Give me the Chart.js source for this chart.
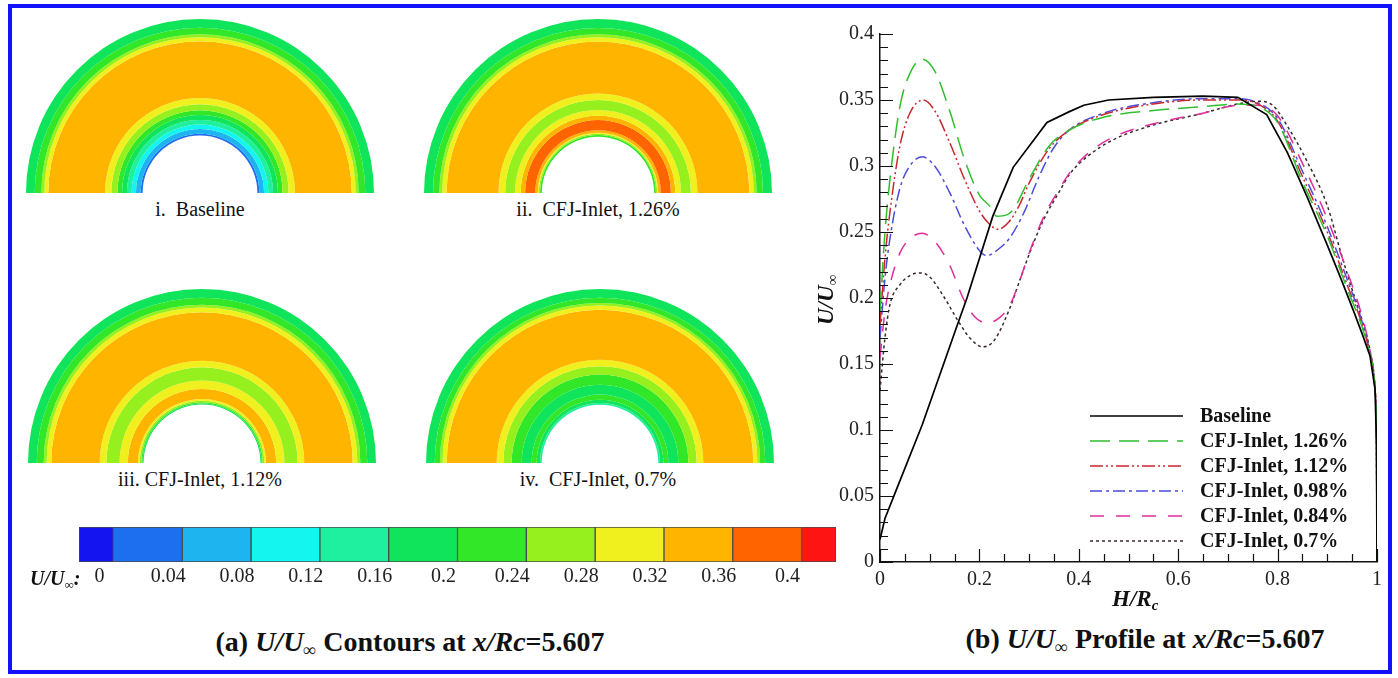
<!DOCTYPE html>
<html lang="en">
<head>
<meta charset="UTF-8">
<meta name="viewport" content="width=device-width, initial-scale=1.0">
<title>U/U∞ contours and profile at x/Rc=5.607</title>
<script src="https://cdn.jsdelivr.net/npm/chart.js"></script>
<style>
    body {
        margin: 0;
        width: 1398px;
        height: 678px;
        background: #fff;
        position: relative;
        overflow: hidden;
        font-family: "Liberation Serif", "Times New Roman", serif;
        color: #111;
    }
    .frame {
        position: absolute;
        left: 8px; top: 4px;
        width: 1384px; height: 670px;
        border: 4px solid #1212ff;
        box-sizing: border-box;
    }
    .box { position: absolute; }
    .ring-label {
        position: absolute;
        width: 360px;
        text-align: center;
        font-size: 20px;
        line-height: 22px;
        white-space: pre;
    }
    .caption {
        position: absolute;
        width: 600px;
        text-align: center;
        font-size: 28px;
        font-weight: bold;
        line-height: 32px;
        white-space: nowrap;
    }
    .axis-title {
        position: absolute;
        font-size: 23px;
        font-weight: bold;
        font-style: italic;
        line-height: 24px;
        white-space: nowrap;
    }
    sub { font-size: 65%; vertical-align: -0.3em; line-height: 0; }
</style>
</head>

<body>
    <div class="frame"></div>

    <!-- (a) contour panels -->
    <div class="box" id="p1box"><canvas id="ringBase"></canvas></div>
    <div class="box" id="p2box"><canvas id="ring126"></canvas></div>
    <div class="box" id="p3box"><canvas id="ring112"></canvas></div>
    <div class="box" id="p4box"><canvas id="ring070"></canvas></div>

    <div class="ring-label" style="left:20px; top:198px;">i.  Baseline</div>
    <div class="ring-label" style="left:418px; top:198px;">ii.  CFJ-Inlet, 1.26%</div>
    <div class="ring-label" style="left:20px; top:468px;">iii. CFJ-Inlet, 1.12%</div>
    <div class="ring-label" style="left:418px; top:468px;">iv.  CFJ-Inlet, 0.7%</div>

    <div class="box" style="left:59px; top:520px; width:797px; height:70px;"><canvas id="colorBar"></canvas></div>
    <div class="axis-title" style="left:30px; top:566px; font-size:20px;">U/U<sub>∞</sub>:</div>

    <div class="caption" style="left:110px; top:626px;">(a) <i>U/U</i><sub>∞</sub> Contours at <i>x/Rc</i>=5.607</div>

    <!-- (b) profile -->
    <div class="box" style="left:820px; top:16px; width:570px; height:590px;"><canvas id="profile"></canvas></div>
    <div class="axis-title" style="left:796px; top:283px; transform:rotate(-90deg); transform-origin:30px 12px;">U/U<sub>∞</sub></div>
    <div class="axis-title" style="left:1112px; top:587px;">H/R<sub>c</sub></div>

    <div class="caption" style="left:845px; top:623px;">(b) <i>U/U</i><sub>∞</sub> Profile at <i>x/Rc</i>=5.607</div>

<script>
    // ---- colour levels (flood) : index 0 is below 0, index 11 above 0.4
    const levelColors = ['#1414f0', '#1e6ef0', '#1eb4f0', '#14f5f0', '#1ef0a0', '#10e45a',
                         '#32e628', '#96f01e', '#f0f01e', '#ffb400', '#ff6400', '#ff1414'];

    const cbEdges = [-0.02, 0, 0.04, 0.08, 0.12, 0.16, 0.2, 0.24, 0.28, 0.32, 0.36, 0.4, 0.42];
    const cbTicks = [0, 0.04, 0.08, 0.12, 0.16, 0.2, 0.24, 0.28, 0.32, 0.36, 0.4];
    const cbLabels = ['0', '0.04', '0.08', '0.12', '0.16', '0.2', '0.24', '0.28', '0.32', '0.36', '0.4'];

    // ---- contour bands, radius / outer radius, inner -> outer
    const ringBaseEdges = [0.330, 0.341, 0.368, 0.393, 0.420, 0.448, 0.475, 0.510, 0.546, 0.872, 0.895, 0.912, 0.950, 1.0];
    const ringBaseLevels = [1, 2, 3, 4, 5, 6, 7, 8, 9, 8, 7, 6, 5];

    const ring126Edges = [0.323, 0.333, 0.340, 0.346, 0.361, 0.419, 0.444, 0.477, 0.534, 0.572, 0.870, 0.895, 0.912, 0.948, 1.0];
    const ring126Levels = [6, 7, 8, 9, 10, 9, 8, 7, 8, 9, 8, 7, 6, 5];

    const ring112Edges = [0.336, 0.342, 0.349, 0.358, 0.368, 0.426, 0.474, 0.550, 0.588, 0.866, 0.893, 0.910, 0.950, 1.0];
    const ring112Levels = [5, 6, 7, 8, 9, 8, 7, 8, 9, 8, 7, 6, 5];

    const ring070Edges = [0.335, 0.345, 0.364, 0.393, 0.450, 0.508, 0.556, 0.594, 0.881, 0.905, 0.920, 0.950, 1.0];
    const ring070Levels = [4, 5, 6, 5, 6, 7, 8, 9, 8, 7, 6, 5];

    // ---- profile data  H/Rc -> U/Uinf
    const xTicks = [0, 0.2, 0.4, 0.6, 0.8, 1];
    const xLabels = ['0', '0.2', '0.4', '0.6', '0.8', '1'];
    const yTicks = [0, 0.05, 0.1, 0.15, 0.2, 0.25, 0.3, 0.35, 0.4];
    const yLabels = ['0', '0.05', '0.1', '0.15', '0.2', '0.25', '0.3', '0.35', '0.4'];

    const seriesNames = ['Baseline', 'CFJ-Inlet, 1.26%', 'CFJ-Inlet, 1.12%', 'CFJ-Inlet, 0.98%', 'CFJ-Inlet, 0.84%', 'CFJ-Inlet, 0.7%'];

    const hBase = [0, 0.01, 0.03, 0.085, 0.157, 0.175, 0.227, 0.268, 0.336, 0.38, 0.41, 0.46, 0.55, 0.65, 0.72, 0.778, 0.82, 0.86, 0.9, 0.926, 0.952, 0.97, 0.986, 0.996, 0.999, 1];
    const uBase = [0.017, 0.033, 0.052, 0.104, 0.181, 0.200, 0.262, 0.299, 0.333, 0.341, 0.346, 0.350, 0.352, 0.353, 0.352, 0.339, 0.310, 0.276, 0.240, 0.216, 0.191, 0.173, 0.156, 0.131, 0.09, 0];

    const h126 = [0, 0.01, 0.02, 0.04, 0.06, 0.085, 0.11, 0.14, 0.17, 0.2, 0.22, 0.235, 0.255, 0.27, 0.3, 0.34, 0.38, 0.45, 0.55, 0.65, 0.72, 0.76, 0.8, 0.85, 0.9, 0.94, 0.97, 0.986, 0.996, 0.999, 1];
    const u126 = [0.19, 0.25, 0.29, 0.345, 0.37, 0.381, 0.372, 0.342, 0.305, 0.278, 0.270, 0.262, 0.263, 0.268, 0.29, 0.315, 0.327, 0.337, 0.342, 0.345, 0.347, 0.345, 0.333, 0.288, 0.247, 0.207, 0.178, 0.157, 0.131, 0.09, 0];

    const h112 = [0, 0.01, 0.02, 0.04, 0.06, 0.087, 0.11, 0.14, 0.17, 0.2, 0.22, 0.237, 0.26, 0.28, 0.3, 0.34, 0.38, 0.45, 0.55, 0.65, 0.72, 0.76, 0.8, 0.85, 0.9, 0.94, 0.97, 0.986, 0.996, 0.999, 1];
    const u112 = [0.18, 0.23, 0.265, 0.315, 0.34, 0.35, 0.342, 0.318, 0.29, 0.266, 0.256, 0.252, 0.258, 0.27, 0.287, 0.313, 0.327, 0.339, 0.347, 0.35, 0.35, 0.347, 0.334, 0.292, 0.25, 0.21, 0.18, 0.157, 0.131, 0.09, 0];

    const h098 = [0, 0.01, 0.02, 0.04, 0.06, 0.085, 0.11, 0.14, 0.17, 0.2, 0.215, 0.235, 0.26, 0.29, 0.32, 0.35, 0.38, 0.45, 0.55, 0.65, 0.72, 0.76, 0.8, 0.85, 0.9, 0.94, 0.97, 0.986, 0.996, 0.999, 1];
    const u098 = [0.17, 0.215, 0.245, 0.283, 0.3, 0.307, 0.3, 0.28, 0.255, 0.236, 0.232, 0.236, 0.245, 0.265, 0.292, 0.314, 0.327, 0.34, 0.348, 0.351, 0.351, 0.348, 0.336, 0.296, 0.254, 0.214, 0.182, 0.158, 0.131, 0.09, 0];

    const h084 = [0, 0.01, 0.02, 0.04, 0.06, 0.085, 0.11, 0.14, 0.167, 0.19, 0.215, 0.24, 0.262, 0.28, 0.302, 0.33, 0.36, 0.382, 0.42, 0.47, 0.55, 0.65, 0.72, 0.76, 0.8, 0.85, 0.9, 0.94, 0.97, 0.986, 0.996, 0.999, 1];
    const u084 = [0.155, 0.19, 0.21, 0.234, 0.245, 0.249, 0.243, 0.225, 0.2, 0.186, 0.181, 0.185, 0.195, 0.212, 0.236, 0.262, 0.282, 0.295, 0.31, 0.322, 0.332, 0.34, 0.346, 0.346, 0.338, 0.302, 0.26, 0.22, 0.186, 0.16, 0.131, 0.09, 0];

    const h070 = [0, 0.01, 0.02, 0.04, 0.06, 0.08, 0.1, 0.13, 0.155, 0.18, 0.207, 0.23, 0.262, 0.28, 0.302, 0.33, 0.36, 0.382, 0.42, 0.47, 0.55, 0.65, 0.72, 0.76, 0.79, 0.82, 0.86, 0.9, 0.926, 0.946, 0.97, 0.986, 0.996, 0.999, 1];
    const u070 = [0.13, 0.17, 0.195, 0.21, 0.217, 0.219, 0.216, 0.2, 0.184, 0.17, 0.163, 0.168, 0.193, 0.212, 0.235, 0.26, 0.28, 0.294, 0.308, 0.32, 0.331, 0.34, 0.347, 0.349, 0.346, 0.33, 0.303, 0.27, 0.236, 0.211, 0.183, 0.16, 0.131, 0.09, 0];

    const serif = '"Liberation Serif", "Times New Roman", serif';
    const R = 174;

    Chart.defaults.animation = false;
    Chart.defaults.events = [];

    // half annulus made of doughnut rings (first dataset = outermost ring)
    function drawRings(canvasId, boxId, cx, cy, edges, levels) {
        const box = document.getElementById(boxId);
        box.style.left = (cx - R) + 'px';
        box.style.top = (cy - R) + 'px';
        box.style.width = (2 * R) + 'px';
        box.style.height = R + 'px';

        const datasets = [];
        for (let i = levels.length - 1; i >= 0; i--) {
            datasets.push({
                data: [1],
                backgroundColor: levelColors[levels[i]],
                borderWidth: 0,
                weight: edges[i + 1] - edges[i]
            });
        }

        new Chart(document.getElementById(canvasId), {
            type: 'doughnut',
            data: { labels: ['U'], datasets: datasets },
            options: {
                responsive: true,
                maintainAspectRatio: false,
                rotation: -90,
                circumference: 180,
                cutout: (edges[0] * 100) + '%',
                layout: { padding: 0 },
                plugins: { legend: { display: false }, tooltip: { enabled: false } }
            }
        });
    }

    drawRings('ringBase', 'p1box', 200, 193, ringBaseEdges, ringBaseLevels);
    drawRings('ring126', 'p2box', 598, 193, ring126Edges, ring126Levels);
    drawRings('ring112', 'p3box', 202, 463, ring112Edges, ring112Levels);
    drawRings('ring070', 'p4box', 600, 463, ring070Edges, ring070Levels);

    // colour bar
    const cbSets = [];
    for (let i = 0; i < cbEdges.length - 1; i++) {
        cbSets.push({
            data: [[cbEdges[i], cbEdges[i + 1]]],
            backgroundColor: levelColors[i],
            borderColor: '#4a4a4a',
            borderWidth: 1,
            borderSkipped: false,
            grouped: false,
            barPercentage: 1,
            categoryPercentage: 1
        });
    }

    new Chart(document.getElementById('colorBar'), {
        type: 'bar',
        data: { labels: [''], datasets: cbSets },
        options: {
            indexAxis: 'y',
            responsive: true,
            maintainAspectRatio: false,
            layout: { padding: { left: 20, right: 20, top: 7, bottom: 0 } },
            plugins: { legend: { display: false }, tooltip: { enabled: false } },
            scales: {
                x: {
                    type: 'linear',
                    min: cbEdges[0],
                    max: cbEdges[cbEdges.length - 1],
                    afterBuildTicks: s => { s.ticks = cbTicks.map(v => ({ value: v })); },
                    afterFit: s => { s.height = 28; },
                    ticks: {
                        callback: (v, i) => cbLabels[i],
                        font: { family: serif, size: 20 },
                        color: '#222',
                        padding: 3,
                        labelOffset: -14,
                        autoSkip: false,
                        maxRotation: 0
                    },
                    grid: { display: false, drawTicks: false },
                    border: { display: false }
                },
                y: { display: false }
            }
        }
    });

    // inward tick marks like the original plot
    const insideTicks = {
        id: 'insideTicks',
        afterDraw(chart) {
            const ctx = chart.ctx;
            const a = chart.chartArea;
            const xs = chart.scales.x, ys = chart.scales.y;
            ctx.save();
            ctx.strokeStyle = '#111';
            ctx.lineWidth = 1.2;
            ctx.beginPath();
            for (let i = 0; i <= 40; i++) {
                const py = Math.round(ys.getPixelForValue(i / 100)) + 0.5;
                const len = i % 5 === 0 ? 13 : 8;
                ctx.moveTo(a.left, py);
                ctx.lineTo(a.left + len, py);
            }
            for (let i = 0; i <= 20; i++) {
                const px = Math.round(xs.getPixelForValue(i / 20)) + 0.5;
                const len = i % 4 === 0 ? 13 : 8;
                ctx.moveTo(px, a.bottom);
                ctx.lineTo(px, a.bottom - len);
            }
            ctx.stroke();
            ctx.restore();
        }
    };

    // legend inside the plot, lower right
    const insideLegend = {
        id: 'insideLegend',
        afterDraw(chart) {
            const ctx = chart.ctx;
            const a = chart.chartArea;
            const x0 = a.left + 210, x1 = a.left + 303, tx = a.left + 320;
            let y = a.bottom - 146;
            ctx.save();
            ctx.font = 'bold 20px ' + serif;
            ctx.textBaseline = 'middle';
            chart.data.datasets.forEach(ds => {
                ctx.strokeStyle = ds.borderColor;
                ctx.lineWidth = ds.borderWidth;
                ctx.setLineDash(ds.borderDash || []);
                ctx.beginPath();
                ctx.moveTo(x0, y);
                ctx.lineTo(x1, y);
                ctx.stroke();
                ctx.setLineDash([]);
                ctx.fillStyle = '#111';
                ctx.fillText(ds.label, tx, y + 1);
                y += 25;
            });
            ctx.restore();
        }
    };

    function serie(name, h, u, color, dash, width, smooth) {
        return {
            label: name,
            data: h.map((v, i) => ({ x: v, y: u[i] })),
            borderColor: color,
            borderWidth: width,
            borderDash: dash,
            pointRadius: 0,
            fill: false,
            tension: 0,
            cubicInterpolationMode: smooth ? 'monotone' : 'default'
        };
    }

    new Chart(document.getElementById('profile'), {
        type: 'line',
        data: {
            datasets: [
                serie(seriesNames[0], hBase, uBase, '#000000', [], 1.7, false),
                serie(seriesNames[1], h126, u126, '#2fbf2f', [20, 9], 1.5, true),
                serie(seriesNames[2], h112, u112, '#c8282d', [13, 3, 2, 3, 2, 3], 1.5, true),
                serie(seriesNames[3], h098, u098, '#4b4bdc', [12, 4, 3, 4], 1.5, true),
                serie(seriesNames[4], h084, u084, '#de2d9b', [14, 12], 1.5, true),
                serie(seriesNames[5], h070, u070, '#3a2a2a', [3, 3], 1.5, true)
            ]
        },
        options: {
            responsive: true,
            maintainAspectRatio: false,
            layout: { padding: { left: 0, right: 13, top: 10, bottom: 0 } },
            plugins: { legend: { display: false }, tooltip: { enabled: false } },
            scales: {
                x: {
                    type: 'linear',
                    min: 0,
                    max: 1,
                    afterBuildTicks: s => { s.ticks = xTicks.map(v => ({ value: v })); },
                    afterFit: s => { s.height = 44; },
                    ticks: {
                        callback: (v, i) => xLabels[i],
                        font: { family: serif, size: 20 },
                        color: '#222',
                        padding: 6,
                        autoSkip: false,
                        maxRotation: 0
                    },
                    grid: { display: false, drawTicks: false },
                    border: { display: true, color: '#111', width: 1.5 }
                },
                y: {
                    type: 'linear',
                    min: 0,
                    max: 0.4,
                    afterBuildTicks: s => { s.ticks = yTicks.map(v => ({ value: v })); },
                    afterFit: s => { s.width = 60; },
                    ticks: {
                        callback: (v, i) => yLabels[i],
                        font: { family: serif, size: 20 },
                        color: '#222',
                        padding: 6,
                        autoSkip: false
                    },
                    grid: { display: false, drawTicks: false },
                    border: { display: true, color: '#111', width: 1.5 }
                }
            }
        },
        plugins: [insideTicks, insideLegend]
    });
</script>
</body>
</html>
